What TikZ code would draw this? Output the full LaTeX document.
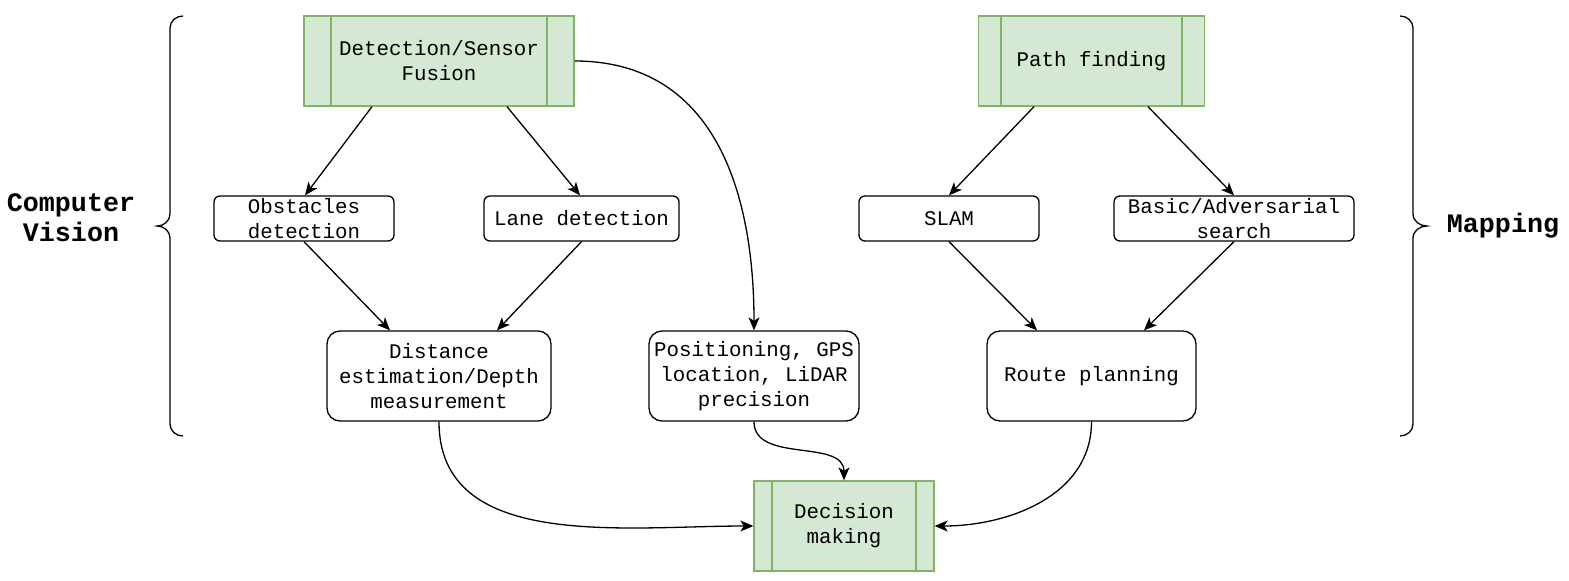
\documentclass[tikz,border=0pt]{standalone}
\usepackage{fontspec}
\setmonofont{Liberation Mono}
\usetikzlibrary{arrows.meta}
\definecolor{gfill}{HTML}{D5E8D4}
\definecolor{gline}{HTML}{82B366}
\tikzset{
  base/.style={inner sep=0pt, align=center, font=\ttfamily\fontsize{20.8}{25}\selectfont, text=black},
  process/.style={base, fill=gfill, draw=gline, line width=1.3pt,
    path picture={
      \draw[gline, line width=1.3pt] ([xshift=#1]path picture bounding box.north west) -- ([xshift=#1]path picture bounding box.south west);
      \draw[gline, line width=1.3pt] ([xshift=-#1]path picture bounding box.north east) -- ([xshift=-#1]path picture bounding box.south east);
    }},
  rbox/.style={base, draw=black, line width=1.3pt, rounded corners=#1},
  conn/.style={draw=black, line width=1.3pt, -{Stealth[length=13pt,width=11pt,inset=3.5pt]}},
  brace/.style={draw=black, line width=1.3pt},
  grouplabel/.style={inner sep=0pt, align=center, font=\ttfamily\bfseries\fontsize{26.7}{30}\selectfont}
}
\begin{document}
\begin{tikzpicture}[x=1pt,y=-1pt]
\useasboundingbox (0,0) rectangle (1569,581);
% top process boxes
\node[process=27, minimum width=270pt, minimum height=90pt] (fusion) at (439,61) {Detection/Sensor\\Fusion};
\node[process=22.6, minimum width=226pt, minimum height=90pt] (path) at (1091.5,61) {Path finding};
% second row
\node[rbox=6pt, minimum width=180pt, minimum height=45pt] (obst) at (304,218.5) {Obstacles\\detection};
\node[rbox=6pt, minimum width=195pt, minimum height=45pt] (lane) at (581.5,218.5) {Lane detection};
\node[rbox=6pt, minimum width=180pt, minimum height=45pt] (slam) at (949,218.5) {SLAM};
\node[rbox=6pt, minimum width=240pt, minimum height=45pt] (basic) at (1234,218.5) {Basic/Adversarial\\search};
% third row
\node[rbox=13pt, minimum width=224pt, minimum height=90pt] (dist) at (439,376) {Distance\\estimation/Depth\\measurement};
\node[rbox=13pt, minimum width=210pt, minimum height=90pt] (pos) at (754,376) {Positioning, GPS\\location, LiDAR\\precision};
\node[rbox=13pt, minimum width=209pt, minimum height=90pt] (route) at (1091.5,376) {Route planning};
% decision
\node[process=18, minimum width=180pt, minimum height=90pt] (dec) at (844,526) {Decision\\making};
% group labels
\node[grouplabel] (cv) at (71,218) {Computer\\Vision};
\node[grouplabel] (map) at (1503,226) {Mapping};
% braces
\draw[brace] (183,16) to[out=180,in=90] (170,28) -- (170,214) to[out=-90,in=0] (157,226)
  to[out=0,in=90] (170,238) -- (170,424) to[out=-90,in=180] (183,436);
\draw[brace] (1400,16) to[out=0,in=90] (1413,28) -- (1413,214) to[out=-90,in=180] (1427,226)
  to[out=180,in=90] (1413,238) -- (1413,424) to[out=-90,in=0] (1400,436);
% connectors
\draw[conn] ([xshift=-67pt]fusion.south) -- ([xshift=1pt]obst.north);
\draw[conn] ([xshift=68pt]fusion.south) -- ([xshift=-1.5pt]lane.north);
\draw[conn] (obst.south) -- ([xshift=-49pt]dist.north);
\draw[conn] (lane.south) -- ([xshift=58pt]dist.north);
\draw[conn] (fusion.east) to[out=0,in=90,looseness=1.1] (pos.north);
\draw[conn] ([xshift=-57.5pt]path.south) -- (slam.north);
\draw[conn] ([xshift=56.5pt]path.south) -- (basic.north);
\draw[conn] (slam.south) -- ([xshift=-54.5pt]route.north);
\draw[conn] (basic.south) -- ([xshift=52.5pt]route.north);
\draw[conn] (dist.south) to[out=-90,in=180] (dec.west);
\draw[conn] (pos.south) to[out=-90,in=90] (dec.north);
\draw[conn] (route.south) to[out=-90,in=0] (dec.east);
\end{tikzpicture}
\end{document}
